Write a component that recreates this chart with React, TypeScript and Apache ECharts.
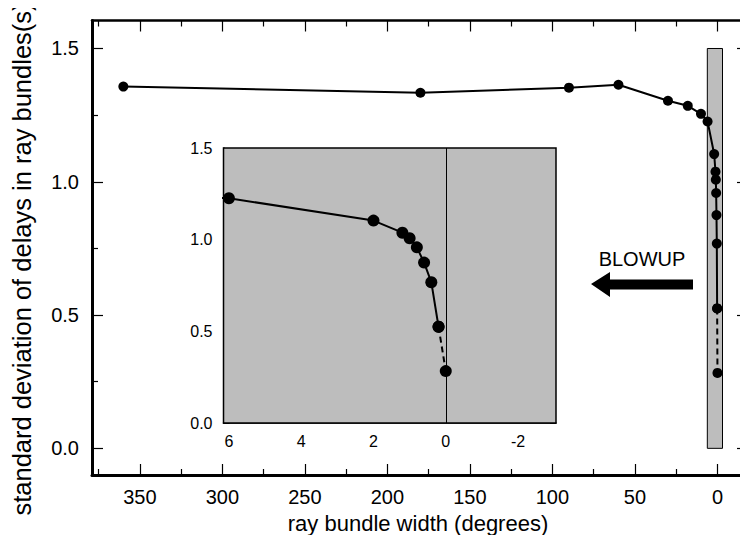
import React, { useEffect, useRef } from "react";
import * as echarts from "echarts";

// ray bundle width (degrees) and standard deviation of delays (s)
const degrees = [360, 180, 90, 60, 30, 18, 10, 6, 2, 1.2, 1.0, 0.8, 0.6, 0.4, 0.2, 0];
const stdDev = [1.357, 1.334, 1.353, 1.364, 1.304, 1.285, 1.255, 1.226, 1.104, 1.038, 1.008, 0.958, 0.875, 0.768, 0.525, 0.283];

// main axis ticks
const mainMajorX = [0, 50, 100, 150, 200, 250, 300, 350];
const mainMinorX = [25, 75, 125, 175, 225, 275, 325, 375];
const mainMajorY = [0, 0.5, 1.0, 1.5];
const mainMinorY = [0.25, 0.75, 1.25];

// inset (blowup) axis ticks
const insetTicksX = [-3, -2, -1, 0, 1, 2, 3, 4, 5, 6];
const insetLabelsX = [6, 4, 2, 0, -2];
const insetTicksY = [0, 0.25, 0.5, 0.75, 1.0, 1.25, 1.5];
const insetLabelsY = [0, 0.5, 1.0, 1.5];

// blowup range (degrees) and its std-dev span
const blowupFrom = 6.15;
const blowupTo = -3.05;
const blowupYMax = 1.5;

const FONT = "Liberation Sans";

export default function App() {
  const ref = useRef<HTMLDivElement>(null);

  useEffect(() => {
    if (!ref.current) return;
    const chart = echarts.init(ref.current, null, { renderer: "svg" });

    const pts = degrees.map((d, i) => [d, stdDev[i]]);
    const solidMain = pts.slice(0, pts.length - 1);
    const dashedPart = pts.slice(pts.length - 2);
    const insetSolid = pts.slice(6, pts.length - 1);

    const black = "#000";
    const mainX = { min: -18.5, max: 379, inverse: true, type: "value" as const, gridIndex: 0 };
    const mainY = { min: -0.1, max: 1.605, type: "value" as const, gridIndex: 0 };
    const insetX = { min: blowupTo, max: blowupFrom, inverse: true, type: "value" as const, gridIndex: 1 };
    const insetY = { min: 0, max: 1.5, type: "value" as const, gridIndex: 1 };

    const noSplit = { splitLine: { show: false } };
    const line = (w: number) => ({ show: true, onZero: false, lineStyle: { color: black, width: w } });
    const noLine = { show: false, onZero: false };

    const option: any = {
      animation: false,
      backgroundColor: "#fff",
      textStyle: { fontFamily: FONT, color: black },
      grid: [
        { left: 92, top: 20.5, width: 660, height: 454.5, show: false },
        {
          left: 223.5,
          top: 148,
          width: 332.5,
          height: 275,
          show: true,
          backgroundColor: "#bdbdbd",
          borderColor: black,
          borderWidth: 1.5,
          z: 1,
        },
      ],
      xAxis: [
        {
          ...mainX,
          ...noSplit,
          position: "bottom",
          axisLine: line(3),
          axisTick: { show: true, inside: true, length: 11, customValues: mainMajorX, lineStyle: { color: black, width: 1.2 } },
          axisLabel: { show: true, customValues: mainMajorX, fontSize: 20, margin: 12, color: black, fontFamily: FONT },
        },
        {
          ...mainX,
          ...noSplit,
          position: "bottom",
          axisLine: noLine,
          axisTick: { show: true, inside: true, length: 6, customValues: mainMinorX, lineStyle: { color: black, width: 1.2 } },
          axisLabel: { show: false },
        },
        {
          ...mainX,
          ...noSplit,
          position: "top",
          axisLine: line(2.5),
          axisTick: { show: true, inside: true, length: 11, customValues: mainMajorX, lineStyle: { color: black, width: 1.2 } },
          axisLabel: { show: false },
        },
        {
          ...mainX,
          ...noSplit,
          position: "top",
          axisLine: noLine,
          axisTick: { show: true, inside: true, length: 6, customValues: mainMinorX, lineStyle: { color: black, width: 1.2 } },
          axisLabel: { show: false },
        },
        {
          ...insetX,
          ...noSplit,
          position: "bottom",
          axisLine: line(1.5),
          axisTick: { show: true, inside: true, length: 6, customValues: insetTicksX, lineStyle: { color: black, width: 1 } },
          axisLabel: { show: true, customValues: insetLabelsX, fontSize: 16, margin: 10, color: black, fontFamily: FONT },
        },
        {
          ...insetX,
          ...noSplit,
          position: "top",
          axisLine: noLine,
          axisTick: { show: true, inside: true, length: 6, customValues: insetTicksX, lineStyle: { color: black, width: 1 } },
          axisLabel: { show: false },
        },
      ],
      yAxis: [
        {
          ...mainY,
          ...noSplit,
          position: "left",
          axisLine: line(3),
          axisTick: { show: true, inside: true, length: 11, customValues: mainMajorY, lineStyle: { color: black, width: 1.2 } },
          axisLabel: {
            show: true,
            customValues: mainMajorY,
            fontSize: 20,
            margin: 13,
            color: black,
            fontFamily: FONT,
            formatter: (v: number) => v.toFixed(1),
          },
        },
        {
          ...mainY,
          ...noSplit,
          position: "left",
          axisLine: noLine,
          axisTick: { show: true, inside: true, length: 6, customValues: mainMinorY, lineStyle: { color: black, width: 1.2 } },
          axisLabel: { show: false },
        },
        {
          ...mainY,
          ...noSplit,
          position: "right",
          axisLine: line(2.5),
          axisTick: { show: true, inside: true, length: 11, customValues: mainMajorY, lineStyle: { color: black, width: 1.2 } },
          axisLabel: { show: false },
        },
        {
          ...mainY,
          ...noSplit,
          position: "right",
          axisLine: noLine,
          axisTick: { show: true, inside: true, length: 6, customValues: mainMinorY, lineStyle: { color: black, width: 1.2 } },
          axisLabel: { show: false },
        },
        {
          ...insetY,
          ...noSplit,
          position: "left",
          axisLine: line(1.5),
          axisTick: { show: true, inside: true, length: 6, customValues: insetTicksY, lineStyle: { color: black, width: 1 } },
          axisLabel: {
            show: true,
            customValues: insetLabelsY,
            fontSize: 16,
            margin: 11,
            color: black,
            fontFamily: FONT,
            formatter: (v: number) => v.toFixed(1),
          },
        },
        {
          ...insetY,
          ...noSplit,
          position: "right",
          axisLine: noLine,
          axisTick: { show: true, inside: true, length: 6, customValues: insetTicksY, lineStyle: { color: black, width: 1 } },
          axisLabel: { show: false },
        },
      ],
      series: [
        {
          type: "line",
          xAxisIndex: 0,
          yAxisIndex: 0,
          data: solidMain,
          symbol: "circle",
          symbolSize: 10,
          itemStyle: { color: black },
          lineStyle: { color: black, width: 2 },
          z: 5,
          markArea: {
            silent: true,
            itemStyle: { color: "#bdbdbd", borderColor: black, borderWidth: 1 },
            data: [[{ xAxis: blowupFrom, yAxis: 0 }, { xAxis: blowupTo, yAxis: blowupYMax }]],
          },
        },
        {
          type: "line",
          xAxisIndex: 0,
          yAxisIndex: 0,
          data: dashedPart,
          symbol: "circle",
          symbolSize: 10,
          itemStyle: { color: black },
          lineStyle: { color: black, width: 2, type: [6, 4] },
          z: 5,
        },
        {
          type: "line",
          xAxisIndex: 4,
          yAxisIndex: 4,
          data: insetSolid,
          clip: true,
          symbol: "circle",
          symbolSize: 12,
          itemStyle: { color: black },
          lineStyle: { color: black, width: 2 },
          z: 5,
          markLine: {
            silent: true,
            symbol: ["none", "none"],
            label: { show: false },
            lineStyle: { color: black, width: 1, type: "solid" },
            data: [{ xAxis: 0 }],
          },
        },
        {
          type: "line",
          xAxisIndex: 4,
          yAxisIndex: 4,
          data: dashedPart,
          clip: true,
          symbol: "circle",
          symbolSize: 12,
          itemStyle: { color: black },
          lineStyle: { color: black, width: 2, type: [6, 4] },
          z: 5,
        },
      ],
      graphic: [
        {
          type: "text",
          x: 22,
          y: 259,
          rotation: Math.PI / 2,
          style: {
            text: "standard deviation of delays in ray bundles(s)",
            fontSize: 25.5,
            fontFamily: FONT,
            fill: black,
            textAlign: "center",
            textVerticalAlign: "middle",
          },
        },
        {
          type: "text",
          x: 418,
          y: 523,
          style: {
            text: "ray bundle width (degrees)",
            fontSize: 22,
            fontFamily: FONT,
            fill: black,
            textAlign: "center",
            textVerticalAlign: "middle",
          },
        },
        {
          type: "text",
          x: 642,
          y: 259,
          style: {
            text: "BLOWUP",
            fontSize: 20,
            fontFamily: FONT,
            fill: black,
            textAlign: "center",
            textVerticalAlign: "middle",
          },
        },
        {
          type: "polygon",
          shape: {
            points: [
              [591, 284],
              [610, 272],
              [610, 279.5],
              [693, 279.5],
              [693, 289.5],
              [610, 289.5],
              [610, 297],
            ],
          },
          style: { fill: black },
        },
      ],
    };

    chart.setOption(option);
    return () => chart.dispose();
  }, []);

  return <div ref={ref} style={{ width: 748, height: 543, margin: -8 }} />;
}
